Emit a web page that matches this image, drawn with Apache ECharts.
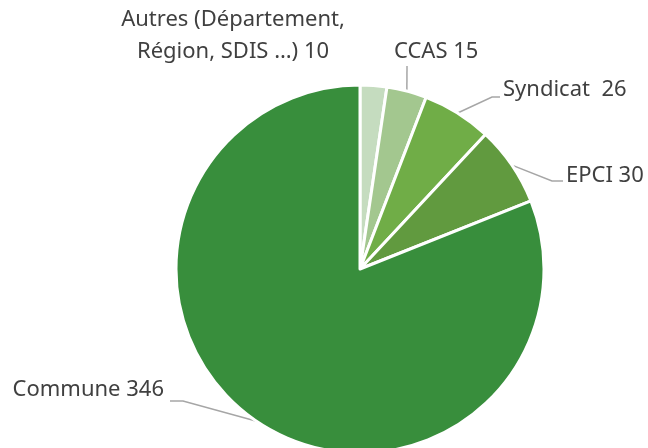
<!DOCTYPE html>
<html>
<head>
<meta charset="utf-8">
<script src="https://cdn.jsdelivr.net/npm/echarts@6/dist/echarts.min.js"></script>
<style>
  html, body { margin: 0; padding: 0; background: #fff; }
  #chart { width: 648px; height: 448px; }
</style>
</head>
<body>
<div id="chart"></div>
<script>
var categories = ['Autres (Département,\nRégion, SDIS …)', 'CCAS', 'Syndicat ', 'EPCI', 'Commune']
var values = [10, 15, 26, 30, 346]
var colors = ['#c5dcbf', '#a3c78f', '#70ad47', '#619a3f', '#388e3c']

// where each label sits: [x, y, align, elbow x, elbow y]
var labelSpots = [
  [233, 36, 'center', null, null],
  [394, 52, 'left', 407, 66],
  [503, 90, 'left', 492, 97],
  [566, 176, 'left', 552, 181],
  [164, 390, 'right', 183, 401]
]

var chart = echarts.init(document.getElementById('chart'))

chart.setOption({
  backgroundColor: '#fff',
  animation: false,
  series: [{
    type: 'pie',
    center: [360, 269],
    radius: 184,
    startAngle: 90,
    clockwise: true,
    data: categories.map(function (name, i) {
      return {
        name: name,
        value: values[i],
        itemStyle: { color: colors[i] },
        labelLine: { show: i !== 0 }
      }
    }),
    itemStyle: { borderColor: '#fff', borderWidth: 3 },
    label: {
      show: true,
      formatter: '{b} {c}',
      color: '#404040',
      fontFamily: 'Noto Sans',
      fontSize: 22,
      lineHeight: 32,
      overflow: 'none'
    },
    labelLine: {
      show: true,
      lineStyle: { color: '#a6a6a6', width: 1.5 }
    },
    labelLayout: function (params) {
      var s = labelSpots[params.dataIndex]
      var out = { x: s[0], y: s[1], align: s[2], verticalAlign: 'middle', width: 300 }
      if (s[3] !== null && params.labelLinePoints) {
        var p0 = params.labelLinePoints[0]
        var endX = s[2] === 'right' ? s[0] + 6 : s[0] - 3
        out.labelLinePoints = [p0, [s[3], s[4]], [endX, s[4]]]
        if (params.dataIndex === 1) out.labelLinePoints = [p0, [s[3], s[4]]]
      }
      return out
    }
  }]
})
</script>
</body>
</html>
